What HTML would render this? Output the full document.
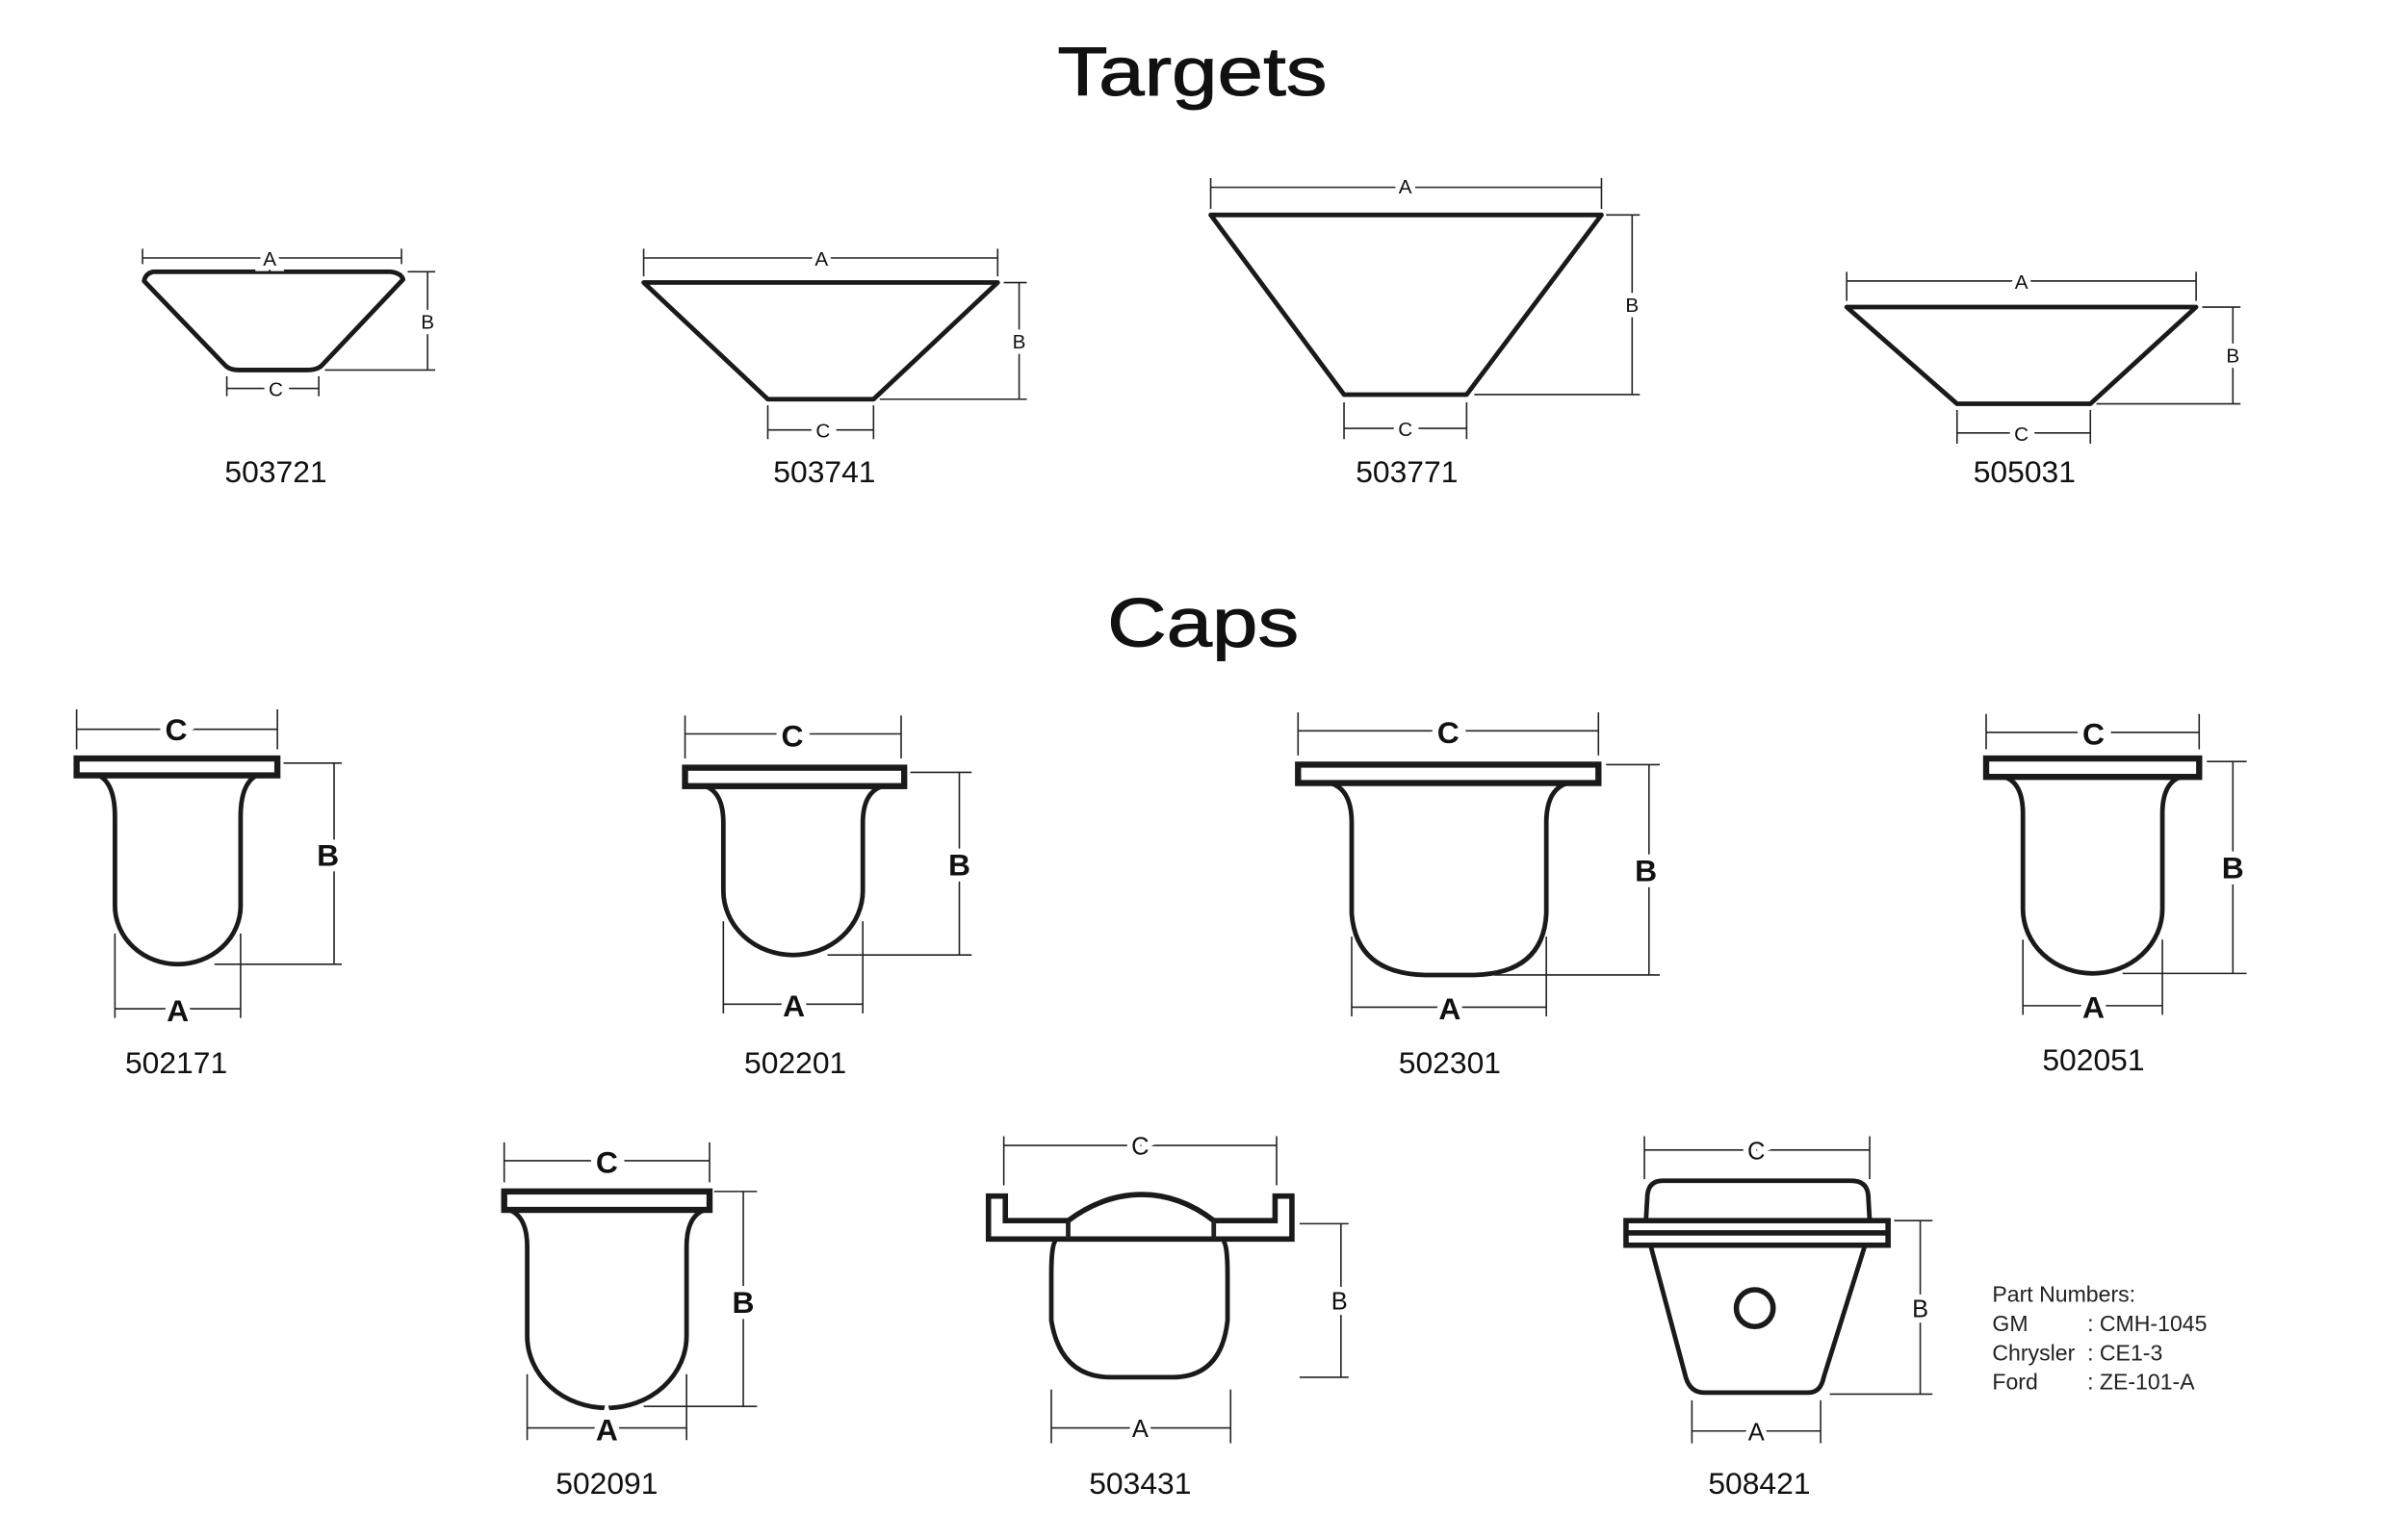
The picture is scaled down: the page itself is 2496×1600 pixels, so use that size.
<!DOCTYPE html>
<html><head><meta charset="utf-8"><style>
html,body{margin:0;padding:0;background:#fff;}
svg{display:block}
.o{fill:#fff;stroke:#1a1a1a;stroke-width:3;stroke-linejoin:round}
.f{fill:#fff;stroke:#1a1a1a;stroke-width:4}
.d{stroke:#222;stroke-width:1;fill:none}
.l{font-family:"Liberation Sans",sans-serif;font-size:13px;text-anchor:middle;fill:#111;paint-order:stroke;stroke:#fff;stroke-width:7px;}
.lc{font-family:"Liberation Sans",sans-serif;font-size:20px;font-weight:bold;text-anchor:middle;fill:#111;paint-order:stroke;stroke:#fff;stroke-width:8px;}
.n{font-family:"Liberation Sans",sans-serif;font-size:20px;text-anchor:middle;fill:#111}
.t{font-family:"Liberation Sans",sans-serif;font-size:45px;text-anchor:middle;fill:#111;stroke:#111;stroke-width:0.6px}
.p{font-family:"Liberation Sans",sans-serif;font-size:14.5px;fill:#222}
</style></head><body>
<svg width="2496" height="1600" viewBox="0 0 1568 1003" preserveAspectRatio="none" xmlns="http://www.w3.org/2000/svg">
<text class="t" x="778" y="62" textLength="176" lengthAdjust="spacingAndGlyphs">Targets</text>
<text class="t" x="785" y="421" textLength="125" lengthAdjust="spacingAndGlyphs">Caps</text>

<!-- 503721 -->
<path class="o" d="M100,177 L255,177 Q262,178 263,182 L210,238 Q207,241 200,241 L156,241 Q150,241 147,238 L94,183 Q95,178 100,177 Z"/>
<path class="d" d="M93,162V172 M262,162V172 M93,168H262 M266,177H284 M212,241H284 M279,177V241 M148,245V258 M208,245V258 M148,253H208"/>
<text class="l" x="176" y="173">A</text><text class="l" x="279" y="214">B</text><text class="l" x="180" y="258">C</text>
<text class="n" x="180" y="314">503721</text>

<!-- 503741 -->
<path class="o" d="M420,184 L651,184 L570,260 L501,260 Z"/>
<path class="d" d="M420,162V180 M651,162V180 M420,168H651 M655,184H670 M574,260H670 M665,184V260 M501,264V286 M570,264V286 M501,280H570"/>
<text class="l" x="536" y="173">A</text><text class="l" x="665" y="227">B</text><text class="l" x="537" y="285">C</text>
<text class="n" x="538" y="314">503741</text>

<!-- 503771 -->
<path class="o" d="M790,140 L1045,140 L957,257 L877,257 Z"/>
<path class="d" d="M790,116V136 M1045,116V136 M790,122H1045 M1048,140H1070 M962,257H1070 M1065,140V257 M877,262V286 M957,262V286 M877,279H957"/>
<text class="l" x="917" y="126">A</text><text class="l" x="1065" y="203">B</text><text class="l" x="917" y="284">C</text>
<text class="n" x="918" y="314">503771</text>

<!-- 505031 -->
<path class="o" d="M1205,200 L1433,200 L1364,263 L1277,263 Z"/>
<path class="d" d="M1205,177V196 M1433,177V196 M1205,183H1433 M1437,200H1462 M1368,263H1462 M1457,200V263 M1277,267V289 M1364,267V289 M1277,282H1364"/>
<text class="l" x="1319" y="188">A</text><text class="l" x="1457" y="236">B</text><text class="l" x="1319" y="287">C</text>
<text class="n" x="1321" y="314">505031</text>

<!-- 502171 -->
<path class="o" d="M62,504 Q75,508 75,532 L75,590 A41,38 0 0 0 157,590 L157,532 Q157,508 170,504"/>
<rect class="f" x="50" y="494" width="131" height="11"/>
<path class="d" d="M50,462V488 M181,462V488 M50,475H181 M185,497H223 M140,628H223 M218,497V628 M75,608V663 M157,608V663 M75,657H157"/>
<text class="lc" x="115" y="482">C</text><text class="lc" x="214" y="564">B</text><text class="lc" x="116" y="665">A</text>
<text class="n" x="115" y="699">502171</text>

<!-- 502201 -->
<path class="o" d="M460,512 Q472,516 472,536 L472,580 A45.5,42 0 0 0 563,580 L563,536 Q563,516 576,512"/>
<rect class="f" x="447" y="500" width="143" height="12"/>
<path class="d" d="M447,466V494 M588,466V494 M447,478H588 M594,503H634 M540,622H634 M626,503V622 M472,600V660 M563,600V660 M472,654H563"/>
<text class="lc" x="517" y="486">C</text><text class="lc" x="626" y="570">B</text><text class="lc" x="518" y="662">A</text>
<text class="n" x="519" y="699">502201</text>

<!-- 502301 -->
<path class="o" d="M868,510 Q882,514 882,536 L882,595 Q885,634 930,635 L962,635 Q1007,634 1009,595 L1009,536 Q1009,514 1023,510"/>
<rect class="f" x="847" y="498" width="196" height="12"/>
<path class="d" d="M847,464V492 M1043,464V492 M847,476H1043 M1048,498H1083 M975,635H1083 M1076,498V635 M882,610V662 M1009,610V662 M882,656H1009"/>
<text class="lc" x="945" y="484">C</text><text class="lc" x="1074" y="574">B</text><text class="lc" x="946" y="664">A</text>
<text class="n" x="946" y="699">502301</text>

<!-- 502051 -->
<path class="o" d="M1308,506 Q1320,510 1320,530 L1320,592 A45.5,42 0 0 0 1411,592 L1411,530 Q1411,510 1423,506"/>
<rect class="f" x="1296" y="494" width="139" height="12"/>
<path class="d" d="M1296,465V488 M1435,465V488 M1296,477H1435 M1440,496H1466 M1385,634H1466 M1457,496V634 M1320,612V661 M1411,612V661 M1320,655H1411"/>
<text class="lc" x="1366" y="485">C</text><text class="lc" x="1457" y="572">B</text><text class="lc" x="1366" y="663">A</text>
<text class="n" x="1366" y="697">502051</text>

<!-- 502091 -->
<path class="o" d="M332,788 Q344,792 344,812 L344,870 A52,47 0 0 0 448,870 L448,812 Q448,792 460,788"/>
<rect class="f" x="329" y="776" width="134" height="12"/>
<path class="d" d="M329,744V770 M463,744V770 M329,756H463 M466,776H494 M420,916H494 M485,776V916 M344,895V938 M448,895V938 M344,930H448"/>
<text class="lc" x="396" y="764">C</text><text class="lc" x="485" y="855">B</text><text class="lc" x="396" y="938">A</text>
<text class="n" x="396" y="973">502091</text>

<!-- 503431 -->
<path class="o" d="M689,808 Q686,810 686,830 L686,860 Q692,897 725,897 L765,897 Q797,897 801,860 L801,830 Q801,810 798,808"/>
<path class="f" d="M645,779 L656,779 L656,795 L697,795 Q720,778 745,778 Q770,778 792,795 L832,795 L832,779 L843,779 L843,807 L645,807 Z" style="stroke-width:3.5"/>
<path class="d" d="M697,795 L697,807 M792,795 L792,807" style="stroke-width:3"/>
<path class="d" d="M655,740V772 M833,740V772 M655,746H833 M848,797H880 M848,897H880 M875,797V897 M686,905V940 M803,905V940 M686,930H803"/>
<text class="l" x="744" y="752" style="font-size:16px">C</text><text class="l" x="874" y="853" style="font-size:16px">B</text><text class="l" x="744" y="936" style="font-size:16px">A</text>
<text class="n" x="744" y="973">503431</text>

<!-- 508421 -->
<path class="o" d="M1077,811 L1100,897 Q1103,907 1112,907 L1180,907 Q1188,907 1190,897 L1217,811"/>
<path class="o" d="M1074,795 L1075,778 Q1076,769 1085,769 L1208,769 Q1218,769 1219,778 L1220,795"/>
<rect class="f" x="1061" y="795" width="171" height="16" style="stroke-width:3.5"/>
<line x1="1061" y1="803" x2="1232" y2="803" stroke="#1a1a1a" stroke-width="3.5"/>
<ellipse cx="1145" cy="852" rx="12" ry="12" fill="#fff" stroke="#1a1a1a" stroke-width="3.5"/>
<path class="d" d="M1073,740V768 M1220,740V768 M1073,749H1220 M1236,795H1261 M1194,908H1261 M1253,795V908 M1104,912V940 M1188,912V940 M1104,932H1188"/>
<text class="l" x="1146" y="755" style="font-size:16px">C</text><text class="l" x="1253" y="858" style="font-size:16px">B</text><text class="l" x="1146" y="938" style="font-size:16px">A</text>
<text class="n" x="1148" y="973">508421</text>

<text class="p" x="1300" y="848">Part Numbers:</text>
<text class="p" x="1300" y="867">GM</text><text class="p" x="1362" y="867">: CMH-1045</text>
<text class="p" x="1300" y="886">Chrysler</text><text class="p" x="1362" y="886">: CE1-3</text>
<text class="p" x="1300" y="905">Ford</text><text class="p" x="1362" y="905">: ZE-101-A</text>
</svg>
</body></html>
